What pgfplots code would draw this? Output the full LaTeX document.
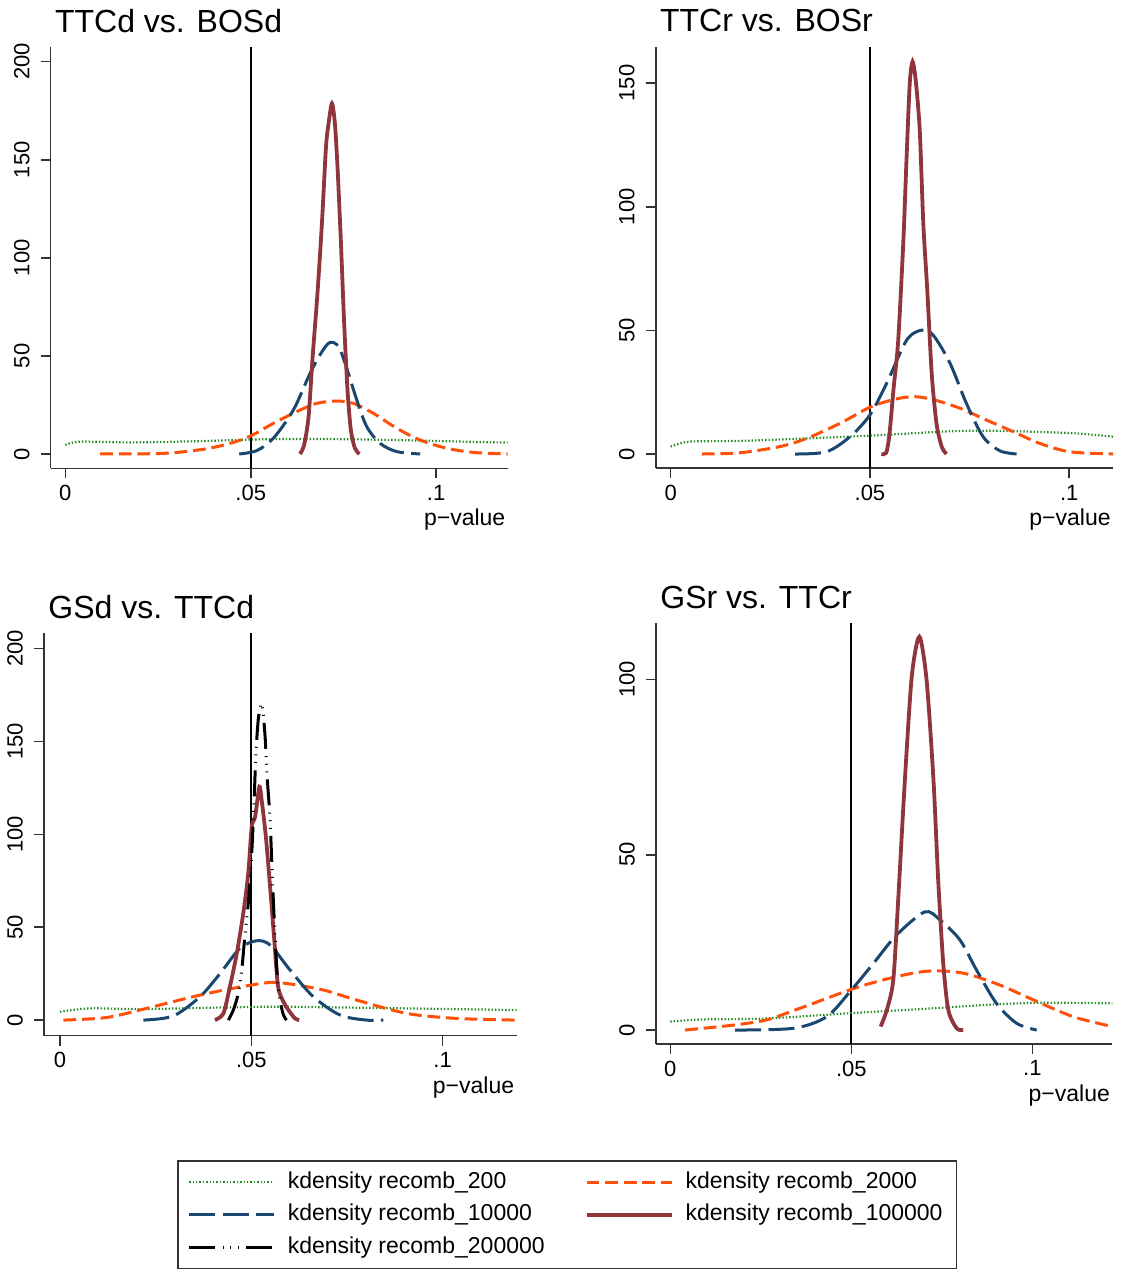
\documentclass[border=0pt]{standalone}
\usepackage{pgfplots}
\pgfplotsset{compat=1.18}
\usepackage{fontspec}
\setmainfont{Liberation Sans}
\definecolor{sgreen}{RGB}{34,139,34}
\definecolor{sorange}{RGB}{255,80,10}
\definecolor{snavy}{RGB}{26,71,111}
\definecolor{smaroon}{RGB}{144,53,59}
\definecolor{saxis}{RGB}{51,51,51}
\pgfplotsset{
  stata/.style={
    scale only axis,
    axis lines=left,
    axis line style={-, saxis, line width=0.8pt},
    tick style={saxis, line width=0.8pt},
    tick align=outside,
    major tick length=5pt,
    xtick={0,0.05,0.1},
    xticklabels={0,.05,.1},
    /pgf/number format/assume math mode=true,
    ticklabel style={font=\fontsize{11}{13}\selectfont},
    yticklabel style={rotate=90, anchor=south},
    yticklabel shift=2pt,
    title style={at={(axis description cs:0,1)}, anchor=base west, inner sep=0pt, xshift=2pt, yshift=1.5pt, font=\fontsize{16}{19}\selectfont},
    xlabel={p−value},
    x label style={at={(axis description cs:1,0)}, anchor=base east, inner sep=0pt, xshift=-1pt, yshift=-28.8pt, font=\fontsize{11.5}{13}\selectfont},
    legend image code/.code={\draw[##1] (0pt,0pt) -- (42.5pt,0pt);},
  },
  g200/.style={sgreen, line width=1.1pt, dash pattern=on 0.7pt off 1.0pt, smooth},
  g2000/.style={sorange, line width=1.5pt, dash pattern=on 6.4pt off 2.9pt, smooth},
  g10000/.style={snavy, line width=1.5pt, dash pattern=on 13pt off 3.7pt, smooth},
  g100000/.style={smaroon, line width=1.9pt, smooth, tension=0.45},
  g200000/.style={black, line width=1.5pt, dash pattern=on 13pt off 3.7pt on 0.5pt off 3.3pt on 0.5pt off 3.3pt on 0.5pt off 3.5pt, smooth, tension=0.45},
}
\begin{document}
\begin{tikzpicture}
\useasboundingbox (0,0) rectangle (560pt,-634.5pt);
% Panel 1
\begin{axis}[stata, at={(25.35pt,-234.15pt)}, anchor=south west,
  width=228.5pt, height=210.5pt,
  xmin=-0.00394, xmax=0.1193, ymin=-7.3, ymax=207.3,
  ytick={0,50,100,150,200}, title={TTCd vs. BOSd}]
\addplot[black, line width=1pt, forget plot] coordinates {(0.05,-7.3) (0.05,207.3)};
\addplot[g200] coordinates {(0,4.6) (0.004,6.3) (0.0174,5.9) (0.0354,6.5) (0.0534,7.5) (0.0714,7.6) (0.0894,7.1) (0.1074,6.3) (0.1193,5.8)};
\addplot[g2000] coordinates {(0.0094,0) (0.0264,0.3) (0.0372,2.4) (0.0444,5.4) (0.05,9.2) (0.0561,15.6) (0.0624,21.6) (0.0678,25.8) (0.0732,27) (0.0777,25.8) (0.0831,20.7) (0.0894,13.1) (0.0957,7.1) (0.1029,2.9) (0.1101,0.8) (0.1193,0)};
\addplot[g10000] coordinates {(0.0469,0) (0.0516,1.7) (0.0561,8) (0.0615,22.4) (0.066,41.1) (0.0692,52.1) (0.0714,56.9) (0.0737,54.7) (0.0759,43.7) (0.0786,27.5) (0.0813,13.9) (0.0849,5.4) (0.0894,1.2) (0.0957,0)};
\addplot[g100000] coordinates {(0.0633,0) (0.0644,4.6) (0.0656,19) (0.0667,49.6) (0.068,81.9) (0.0692,117.5) (0.0703,156.6) (0.071,168.5) (0.0719,178.7) (0.0727,168.5) (0.0734,146.4) (0.0743,109) (0.0752,66.6) (0.0761,32.6) (0.077,12.2) (0.0781,2.9) (0.0793,0)};
\end{axis}
% Panel 2
\begin{axis}[stata, at={(327.85pt,-234pt)}, anchor=south west,
  width=228.65pt, height=210.65pt,
  xmin=-0.00376, xmax=0.111, ymin=-5.66, ymax=164.7,
  ytick={0,50,100,150}, title={TTCr vs. BOSr}]
\addplot[black, line width=1pt, forget plot] coordinates {(0.05,-5.66) (0.05,164.7)};
\addplot[g200] coordinates {(0,3) (0.0048,5) (0.0174,5.3) (0.0341,6.3) (0.0508,7.5) (0.0676,9) (0.0759,9.4) (0.0843,9.3) (0.101,8.4) (0.111,7)};
\addplot[g2000] coordinates {(0.0078,0) (0.0174,0.5) (0.0274,3) (0.0341,6.3) (0.0425,12.4) (0.05,18.9) (0.0559,22) (0.0609,23.2) (0.0659,22) (0.0726,18.5) (0.0793,13.7) (0.086,9) (0.0926,4.3) (0.1002,0.9) (0.111,0)};
\addplot[g10000] coordinates {(0.0312,0) (0.0391,0.9) (0.045,7) (0.05,15.8) (0.0542,28.6) (0.0592,46) (0.063,50.1) (0.0659,48) (0.0701,36.7) (0.0742,20.5) (0.0784,7) (0.0826,1.3) (0.0868,0)};
\addplot[g100000] coordinates {(0.0529,0) (0.0541,0.5) (0.0549,8) (0.0559,25.9) (0.0571,46) (0.0584,86.5) (0.0592,120) (0.06,150) (0.0607,158.6) (0.0615,151) (0.0625,131) (0.0634,93) (0.0644,66) (0.0655,32.6) (0.0667,12.4) (0.068,3) (0.0692,0)};
\end{axis}
% Panel 3
\begin{axis}[stata, at={(22pt,-517.75pt)}, anchor=south west,
  width=236.25pt, height=201.1pt,
  xmin=-0.00418, xmax=0.1193, ymin=-8.3, ymax=208.2,
  ytick={0,50,100,150,200}, title={GSd vs. TTCd},
  legend columns=2, legend cell align=left,
  legend style={at={(axis description cs:0.2815,-0.3096)}, anchor=north west,
    draw=saxis, line width=0.75pt, inner xsep=5pt, inner ysep=3.25pt,
    row sep=1.25pt, font=\fontsize{11.5}{14}\selectfont,
    nodes={inner sep=2pt, text height=8.5pt, text depth=2.5pt},
    /tikz/every odd column/.append style={column sep=4pt},
    /tikz/every even column/.append style={column sep=18pt}}]
\addplot[black, line width=1pt, forget plot] coordinates {(0.05,-8.3) (0.05,208.2)};
\addplot[g200] coordinates {(0,4.5) (0.0078,6.3) (0.0209,5.9) (0.0383,6.6) (0.0557,7.2) (0.0732,6.8) (0.0906,6.3) (0.1193,5.4)};
\addlegendentry{kdensity recomb\_200}
\addplot[g2000] coordinates {(0.0009,0) (0.0122,1.4) (0.0226,6.3) (0.034,12.2) (0.0436,16.5) (0.054,20.1) (0.0592,19.7) (0.0688,16.2) (0.0775,10.8) (0.0906,3.6) (0.1037,0.9) (0.1193,0)};
\addlegendentry{kdensity recomb\_2000}
\addplot[g10000] coordinates {(0.0218,0) (0.0296,2.2) (0.0366,12.6) (0.0418,25) (0.047,38.6) (0.0514,42.7) (0.0549,40.4) (0.0601,27) (0.0662,12.6) (0.0732,2.7) (0.0801,0) (0.0845,0)};
\addlegendentry{kdensity recomb\_10000}
\addplot[g100000] coordinates {(0.0405,0) (0.0427,3.6) (0.0444,17.9) (0.0462,35.9) (0.0479,57.5) (0.0492,79) (0.0501,104) (0.051,109.5) (0.0521,125.6) (0.0527,118.5) (0.0538,98.7) (0.0549,71.8) (0.056,43.1) (0.057,17.9) (0.0584,9.9) (0.0597,5.4) (0.0614,0.9) (0.0625,0)};
\addlegendentry{kdensity recomb\_100000}
\addplot[g200000] coordinates {(0.044,0) (0.0453,5.4) (0.0466,14.4) (0.0475,26.9) (0.0483,44.9) (0.0492,62.8) (0.0501,89.8) (0.0507,116.7) (0.0512,143.6) (0.0518,161.6) (0.0523,167.8) (0.0525,170.5) (0.053,166.9) (0.0536,152.6) (0.0542,129.2) (0.0549,107.7) (0.0556,71.8) (0.0562,44.9) (0.0568,23.3) (0.0575,10.8) (0.0584,2.7) (0.0592,0)};
\addlegendentry{kdensity recomb\_200000}
\end{axis}
% Panel 4
\begin{axis}[stata, at={(328pt,-521.85pt)}, anchor=south west,
  width=228.15pt, height=210.2pt,
  xmin=-0.00395, xmax=0.1221, ymin=-3.9, ymax=116,
  ytick={0,50,100}, title={GSr vs. TTCr}]
\addplot[black, line width=1pt, forget plot] coordinates {(0.05,-3.9) (0.05,116)};
\addplot[g200] coordinates {(0,2.4) (0.0082,3) (0.0266,3.3) (0.0496,4.8) (0.0727,6.2) (0.0911,7.4) (0.1049,7.8) (0.1221,7.6)};
\addplot[g2000] coordinates {(0.0041,0) (0.0174,1.4) (0.0266,2.9) (0.0358,6.2) (0.05,11.6) (0.0588,14.3) (0.068,16.4) (0.0745,16.9) (0.0819,16) (0.0911,12.8) (0.1003,8.6) (0.1113,3.8) (0.1221,1)};
\addplot[g10000] coordinates {(0.0179,0) (0.034,0.5) (0.0432,3.8) (0.05,11.4) (0.0561,19) (0.0625,27.1) (0.0703,33.7) (0.0745,31.4) (0.08,25.7) (0.0846,17.1) (0.0901,7.6) (0.0957,1.9) (0.1012,0)};
\addplot[g100000] coordinates {(0.0581,1) (0.0598,5.7) (0.0616,14.3) (0.063,38) (0.0648,71.3) (0.0667,100.8) (0.0688,112.2) (0.0708,99.8) (0.0727,71.3) (0.074,42.8) (0.0754,19) (0.0768,5.7) (0.0791,0.5) (0.0809,0)};
\end{axis}
\end{tikzpicture}
\end{document}
